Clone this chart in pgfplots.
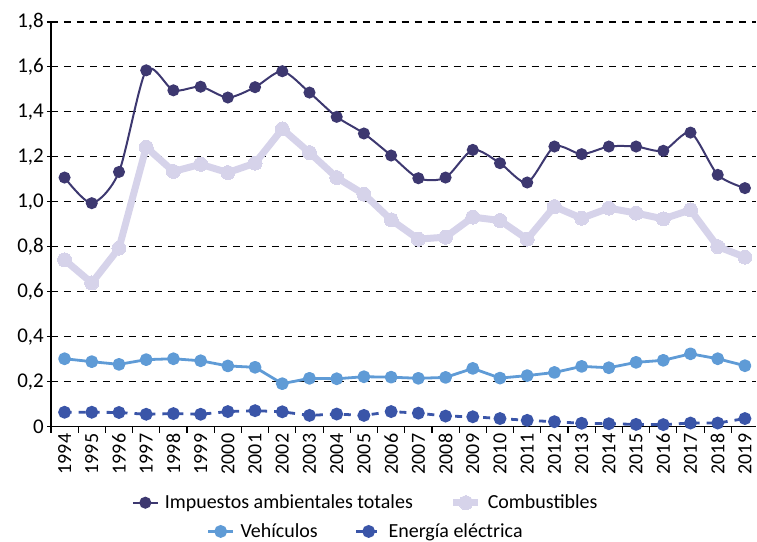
\documentclass[border=0pt]{standalone}
\usepackage{fontspec}
\setmainfont{Carlito}
\usepackage{pgfplots}
\pgfplotsset{compat=1.18}
\usepackage{pgfplotstable}

\definecolor{cimp}{HTML}{3D3870}
\definecolor{ccomb}{HTML}{D6D3EA}
\definecolor{cveh}{HTML}{5F9BD6}
\definecolor{cene}{HTML}{3A55A8}

\pgfplotstableread{
x imp comb veh ene
0 1.108 0.742 0.302 0.064
1 0.994 0.639 0.289 0.064
2 1.133 0.794 0.277 0.063
3 1.585 1.243 0.298 0.055
4 1.496 1.135 0.302 0.058
5 1.512 1.167 0.293 0.055
6 1.464 1.130 0.270 0.067
7 1.510 1.172 0.264 0.071
8 1.581 1.324 0.191 0.066
9 1.486 1.219 0.215 0.050
10 1.378 1.108 0.213 0.056
11 1.304 1.034 0.222 0.050
12 1.206 0.920 0.220 0.067
13 1.105 0.834 0.215 0.060
14 1.108 0.843 0.219 0.047
15 1.231 0.932 0.259 0.044
16 1.172 0.917 0.216 0.036
17 1.086 0.834 0.227 0.028
18 1.246 0.979 0.241 0.022
19 1.212 0.927 0.268 0.015
20 1.246 0.972 0.262 0.013
21 1.246 0.950 0.286 0.010
22 1.227 0.924 0.295 0.009
23 1.308 0.964 0.324 0.016
24 1.120 0.801 0.302 0.016
25 1.061 0.754 0.271 0.036
}\data

\tikzset{
  simp/.style={color=cimp, line width=2pt, mark=*, mark size=5pt, mark options={solid}},
  scomb/.style={color=ccomb, line width=7pt, mark=*, mark size=7pt, mark options={solid, line width=0pt}},
  sveh/.style={color=cveh, line width=2.8pt, mark=*, mark size=5pt, mark options={solid}},
  sene/.style={color=cene, line width=2.8pt, dash pattern=on 7pt off 7pt, mark=*, mark size=5pt, mark options={solid}},
}

\pgfplotsset{
  legstyle/.style={
    legend style={draw=none, fill=none, font=\fontsize{20}{23}\selectfont,
      /tikz/every even column/.append style={column sep=31pt},
      inner sep=0pt, row sep=0pt,
      nodes={inner xsep=6pt, inner ysep=2pt}},
    legend columns=2,
    legend image code/.code={\draw[mark repeat=2,mark phase=2] plot coordinates {(0pt,0pt) (12.5pt,0pt) (25pt,0pt)};},
  },
}

\begin{document}
\begin{tikzpicture}
\begin{axis}[
  name=main,
  scale only axis,
  width=706pt, height=405pt,
  xmin=-0.5, xmax=25.42,
  ymin=0, ymax=1.8,
  axis x line*=bottom, axis y line*=left,
  axis line style={black, line width=1.3pt},
  xtick={0,...,25},
  xticklabels={1994,1995,1996,1997,1998,1999,2000,2001,2002,2003,2004,2005,2006,2007,2008,2009,2010,2011,2012,2013,2014,2015,2016,2017,2018,2019},
  xticklabel style={rotate=90, anchor=east, font=\fontsize{20}{23}\selectfont, inner xsep=3pt, inner ysep=0pt},
  major x tick style={draw=none},
  minor xtick={-0.5,0.5,...,24.5},
  minor x tick style={black, line width=1.1pt},
  minor tick length=6pt,
  tick align=outside,
  ytick={0,0.2,...,1.8},
  yticklabels={0,{0,2},{0,4},{0,6},{0,8},{1,0},{1,2},{1,4},{1,6},{1,8}},
  yticklabel style={font=\fontsize{21}{24}\selectfont, inner sep=3pt},
  major y tick style={black, line width=1.1pt},
  major tick length=4pt,
  ymajorgrids,
  grid style={black, line width=1.1pt, dash pattern=on 7pt off 6pt},
  /pgf/number format/assume math mode=true,
  clip=false,
  legstyle,
  legend style={at={(0.449,-0.188)}, anchor=center},
]
\addplot[simp, smooth, tension=0.45] table[x=x, y=imp] {\data};
\addlegendentry{Impuestos ambientales totales}
\addplot[scomb, line join=round] table[x=x, y=comb] {\data};
\addlegendentry{Combustibles}
\addplot[sveh, line join=round] table[x=x, y=veh] {\data};
\addplot[sene] table[x=x, y=ene] {\data};
\end{axis}
\begin{axis}[
  scale only axis,
  width=706pt, height=405pt,
  xmin=-0.5, xmax=25.42,
  ymin=0, ymax=1.8,
  hide axis,
  legstyle,
  legend style={at={(0.449,-0.259)}, anchor=center},
]
\addlegendimage{sveh}
\addlegendentry{Vehículos}
\addlegendimage{sene}
\addlegendentry{Energía eléctrica}
\end{axis}
\path ([xshift=-51pt,yshift=-115pt]main.south west) rectangle ([yshift=22pt]main.north east);
\end{tikzpicture}
\end{document}
